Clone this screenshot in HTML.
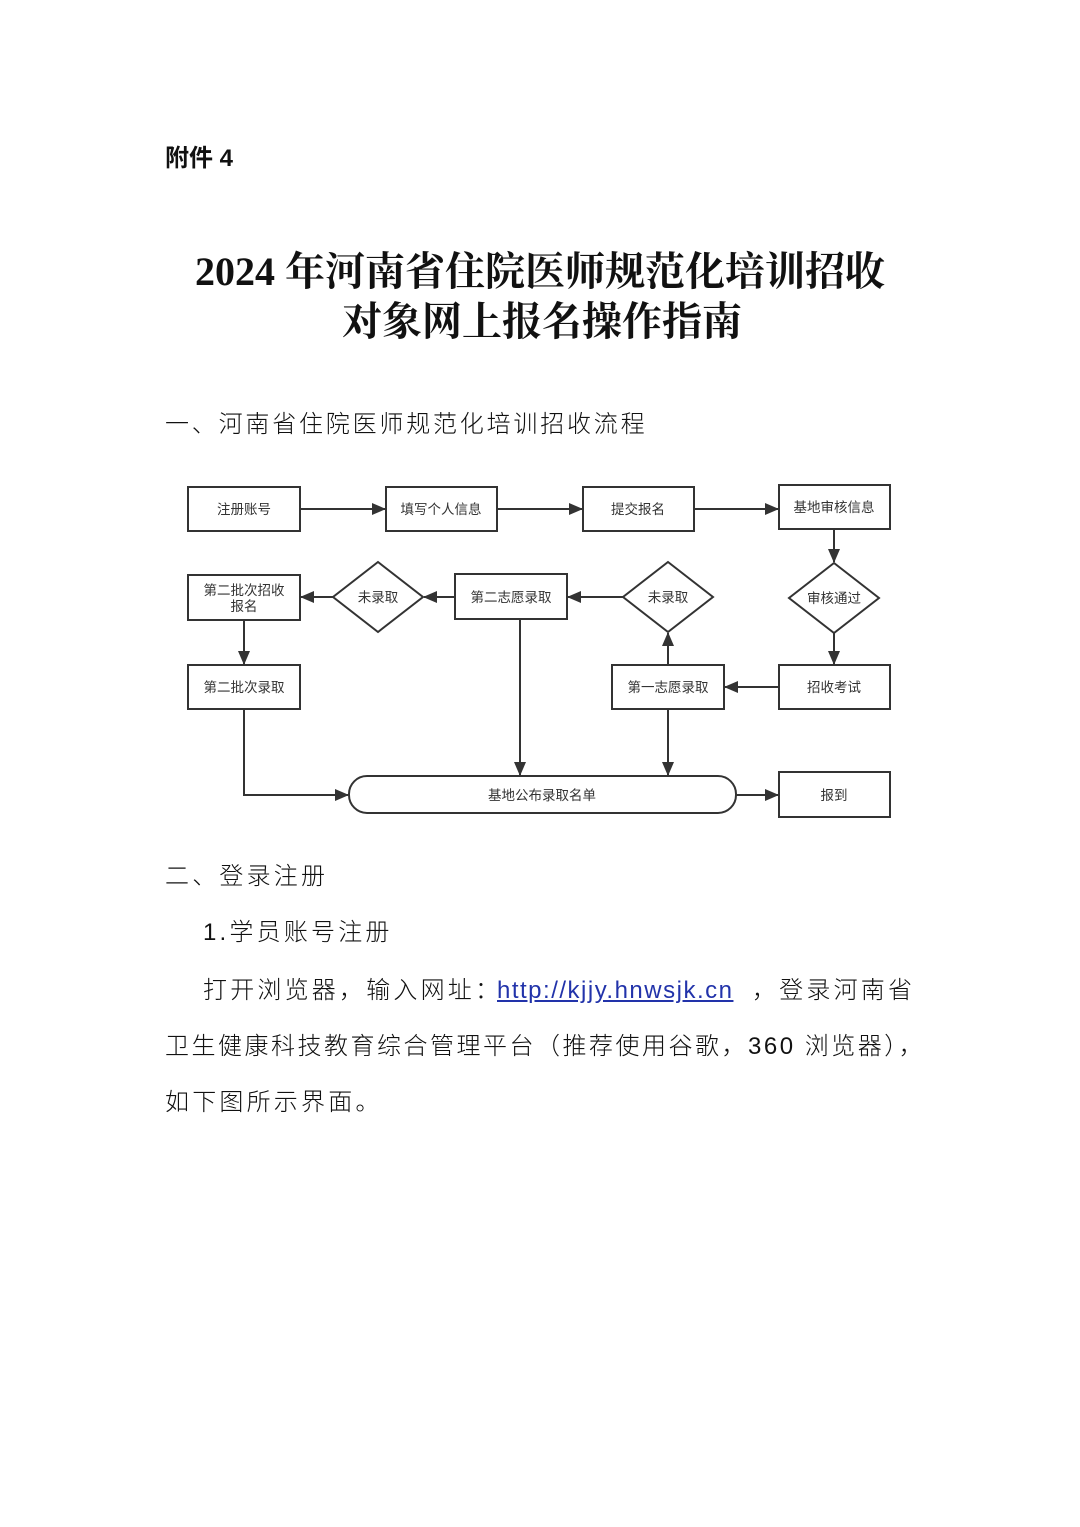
<!DOCTYPE html>
<html><head><meta charset="utf-8"><style>
body{margin:0;background:#fff;}
.p{position:relative;width:1080px;height:1527px;overflow:hidden;font-family:"Liberation Sans","Noto Sans CJK SC",sans-serif;color:#111;}
.t{position:absolute;white-space:nowrap;line-height:1;}
.b{font-size:24px;letter-spacing:3.2px;font-family:"Liberation Sans","Noto Sans CJK SC",sans-serif;font-weight:300;}
.h{font-family:"Liberation Serif","Noto Serif CJK SC",serif;font-weight:bold;font-size:40px;width:1080px;text-align:center;left:0;}
svg text{font-family:"Liberation Sans","Noto Sans CJK SC",sans-serif;font-size:13.5px;fill:#333;}
</style></head><body><div class="p">
<div class="t" style="left:165px;top:147px;font-size:24px;font-weight:bold;">附件 4</div>
<div class="t h" style="top:252px;">2024 年河南省住院医师规范化培训招收</div>
<div class="t h" style="top:302px;left:2px;">对象网上报名操作指南</div>
<div class="t b" style="left:165px;top:413px;letter-spacing:2.8px;">一、河南省住院医师规范化培训招收流程</div>

<svg style="position:absolute;left:0;top:0" width="1080" height="900">
<defs><marker id="a" markerWidth="14" markerHeight="12" refX="13" refY="6" orient="auto" markerUnits="userSpaceOnUse"><path d="M0,0 L14,6 L0,12 z" fill="#333"/></marker></defs>
<g fill="#fff" stroke="#333" stroke-width="2">
<rect x="188" y="487" width="112" height="44"/>
<rect x="386" y="487" width="111" height="44"/>
<rect x="583" y="487" width="111" height="44"/>
<rect x="779" y="485" width="111" height="44"/>
<polygon points="834,563 879,598 834,633 789,598"/>
<rect x="779" y="665" width="111" height="44"/>
<rect x="612" y="665" width="112" height="44"/>
<polygon points="668,562 713,597 668,632 623,597"/>
<rect x="455" y="574" width="112" height="45"/>
<polygon points="378,562 423,597 378,632 333,597"/>
<rect x="188" y="575" width="112" height="45"/>
<rect x="188" y="665" width="112" height="44"/>
<rect x="349" y="776" width="387" height="37" rx="18"/>
<rect x="779" y="772" width="111" height="45"/>
</g>
<g stroke="#333" stroke-width="2" fill="none" marker-end="url(#a)">
<line x1="300" y1="509" x2="385" y2="509"/>
<line x1="497" y1="509" x2="582" y2="509"/>
<line x1="694" y1="509" x2="778" y2="509"/>
<line x1="834" y1="529" x2="834" y2="562"/>
<line x1="834" y1="633" x2="834" y2="664"/>
<line x1="779" y1="687" x2="725" y2="687"/>
<line x1="668" y1="665" x2="668" y2="633"/>
<line x1="623" y1="597" x2="568" y2="597"/>
<line x1="455" y1="597" x2="424" y2="597"/>
<line x1="333" y1="597" x2="301" y2="597"/>
<line x1="244" y1="620" x2="244" y2="664"/>
<polyline points="244,709 244,795 348,795"/>
<line x1="520" y1="619" x2="520" y2="775"/>
<line x1="668" y1="709" x2="668" y2="775"/>
<line x1="736" y1="795" x2="778" y2="795"/>
</g>
<g text-anchor="middle">
<text x="244" y="514">注册账号</text>
<text x="441" y="514">填写个人信息</text>
<text x="638" y="514">提交报名</text>
<text x="834" y="512">基地审核信息</text>
<text x="834" y="603">审核通过</text>
<text x="834" y="692">招收考试</text>
<text x="668" y="692">第一志愿录取</text>
<text x="668" y="602">未录取</text>
<text x="511" y="602">第二志愿录取</text>
<text x="378" y="602">未录取</text>
<text x="244" y="595">第二批次招收</text>
<text x="244" y="611">报名</text>
<text x="244" y="692">第二批次录取</text>
<text x="542" y="800">基地公布录取名单</text>
<text x="834" y="800">报到</text>
</g>
</svg>

<div class="t b" style="left:165px;top:865px;">二、登录注册</div>
<div class="t b" style="left:203px;top:921px;">1.学员账号注册</div>
<div class="t b" style="left:203px;top:979px;">打开浏览器，输入网址：</div>
<div class="t b" style="left:497px;top:979px;color:#2233aa;text-decoration:underline;letter-spacing:1.5px;">http://kjjy.hnwsjk.cn</div>
<div class="t b" style="left:752px;top:979px;">，登录河南省</div>
<div class="t b" style="left:165px;top:1035px;letter-spacing:2.5px;">卫生健康科技教育综合管理平台（推荐使用谷歌，360 浏览器），</div>
<div class="t b" style="left:165px;top:1091px;">如下图所示界面。</div>
</div></body></html>
